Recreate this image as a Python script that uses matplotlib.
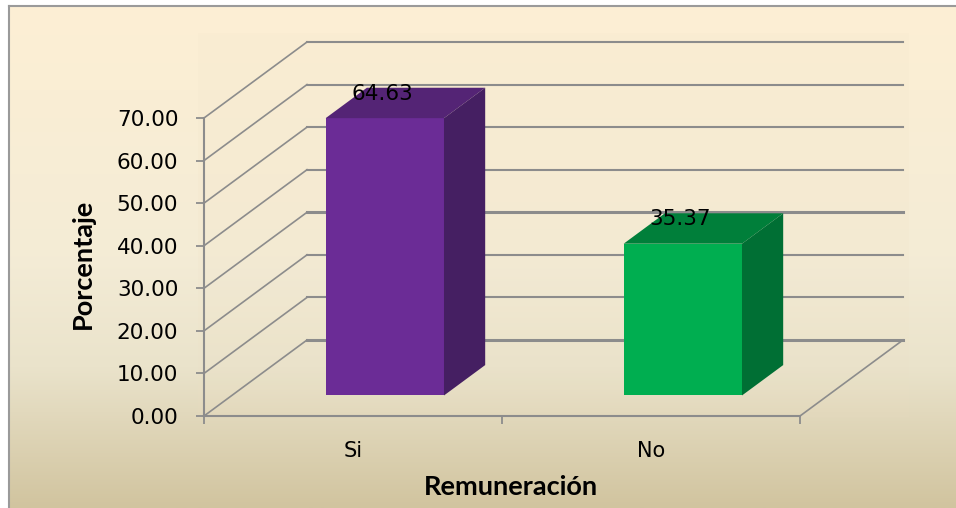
import numpy as np
import matplotlib
matplotlib.use('Agg')
import matplotlib.pyplot as plt
from matplotlib.colors import LinearSegmentedColormap
from matplotlib.patches import Polygon, Rectangle

# Data
categories = ['Si', 'No']
values = [64.63, 35.37]
value_labels = ['64.63', '35.37']
y_ticks = [0, 10, 20, 30, 40, 50, 60, 70]
front_colors = ['#6B2C96', '#00AE50']
top_colors = ['#542475', '#007F3A']
side_colors = ['#451F62', '#006F34']

W, H = 956, 508
plt.rcParams['font.family'] = ['DejaVu Sans']

fig = plt.figure(figsize=(W / 100, H / 100), dpi=100, facecolor='white')

# background panel with the vertical gradient, runs off the right and bottom edge
bg = fig.add_axes([9 / W, 0, (W - 9 + 4) / W, 1 - 6 / H])
cmap = LinearSegmentedColormap.from_list('bg', [(0, '#FDEFD4'), (0.5, '#F4ECD6'), (0.72, '#EAE3CB'), (1, '#D1C49F')])
bg.imshow(np.linspace(0, 1, 256).reshape(-1, 1), aspect='auto', cmap=cmap)
bg.set_xticks([])
bg.set_yticks([])
for s in ['right', 'bottom']:
    bg.spines[s].set_visible(False)
for s in ['left', 'top']:
    bg.spines[s].set_color('#9A9A9A')
    bg.spines[s].set_linewidth(1.5)

# faint block behind the plot area
bg.add_patch(Rectangle((198 / W, 1 - 417 / H), 711 / W, 384 / H, transform=fig.transFigure,
                       fc='#EFE0C4', ec='none', alpha=0.12))

# front plane of the 3D axes: x from 204 to 800 px, y from 416 to 118 px
ax = fig.add_axes([204 / W, 1 - 416 / H, 596 / W, 298 / H])
ax.patch.set_alpha(0)
ax.set_xlim(0, 2)
ax.set_ylim(0, 70)
px_x = 298.0  # px per category
px_y = 298.0 / 70

# depth of the box in data units
depth_x = 103 / px_x
depth_y = 76 / px_y

grid = '#8C8C8C'
for v in y_ticks:
    lw = 2.2 if v in (0, 30) else 1.5
    ax.plot([depth_x, 2 + depth_x], [v + depth_y, v + depth_y], color=grid, lw=lw, clip_on=False, zorder=1)
    ax.plot([0, depth_x], [v, v + depth_y], color=grid, lw=1.2, clip_on=False, zorder=1)
ax.plot([2, 2 + depth_x], [0, depth_y], color=grid, lw=1.2, clip_on=False, zorder=1)

# bars
base = 0.27
deep = 0.67
bar_w = 0.397
stretch = 1.008
for i, v in enumerate(values):
    x0 = i + 0.315
    x1 = x0 + bar_w
    h = v * stretch
    fx = base * depth_x
    fy = base * depth_y
    bx = deep * depth_x
    by = deep * depth_y
    ax.add_patch(Polygon([(x0 + fx, fy), (x1 + fx, fy), (x1 + fx, fy + h), (x0 + fx, fy + h)],
                         fc=front_colors[i], ec='none', clip_on=False, zorder=3))
    ax.add_patch(Polygon([(x0 + fx, fy + h), (x1 + fx, fy + h), (x1 + bx, by + h), (x0 + bx, by + h)],
                         fc=top_colors[i], ec='none', clip_on=False, zorder=3))
    ax.add_patch(Polygon([(x1 + fx, fy), (x1 + bx, by), (x1 + bx, by + h), (x1 + fx, fy + h)],
                         fc=side_colors[i], ec='none', clip_on=False, zorder=3))
    ax.text(i + 0.5 + 0.098, fy + h + 5.7, value_labels[i], ha='center', va='center',
            fontsize=15.5, color='black', zorder=5, clip_on=False)

for s in ['top', 'right']:
    ax.spines[s].set_visible(False)
for s in ['left', 'bottom']:
    ax.spines[s].set_color(grid)
    ax.spines[s].set_linewidth(1.5)

ax.set_yticks(y_ticks)
ax.set_yticklabels(['%.2f' % v for v in y_ticks], fontsize=15.5)
ax.tick_params(axis='y', length=6, width=1.3, color=grid, pad=12.5)
ax.set_xticks([0, 1, 2])
ax.set_xticklabels([])
ax.tick_params(axis='x', which='major', length=6, width=1.3, color=grid)
ax.set_xticks([0.5, 1.5], minor=True)
ax.set_xticklabels(categories, minor=True, fontsize=15)
ax.tick_params(axis='x', which='minor', length=0, pad=18)

fig.text(83 / W, 1 - 264 / H, 'Porcentaje', rotation=90, ha='center', va='center',
         fontsize=19.5, fontweight='bold', family='Lato')
fig.text(511 / W, 1 - 487 / H, 'Remuneración', ha='center', va='center',
         fontsize=19.5, fontweight='bold', family='Lato')

fig.savefig('out.png', dpi=100)
